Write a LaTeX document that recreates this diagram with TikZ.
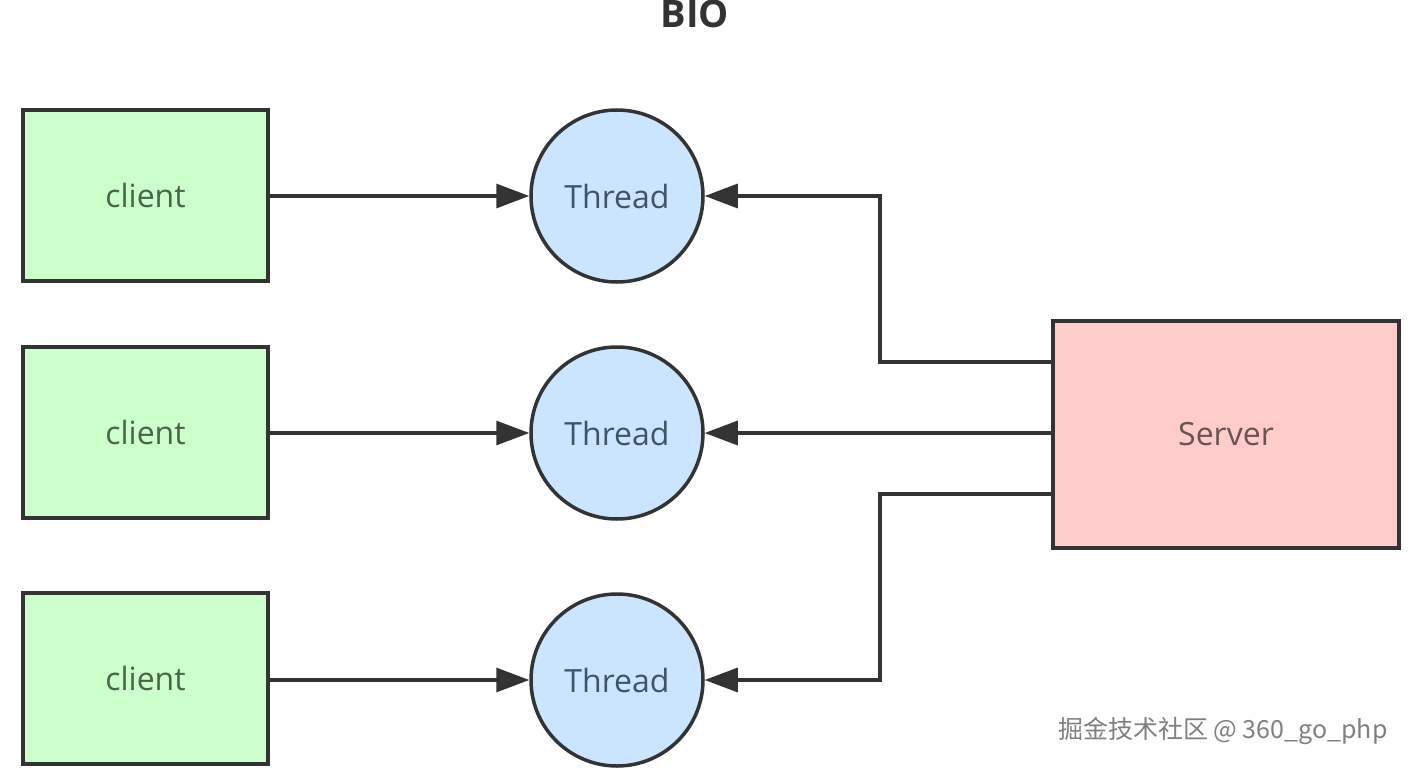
\documentclass[tikz,border=0pt]{standalone}
\usepackage{fontspec}
\setmainfont{Open Sans}
\newfontfamily\cjkfont{Noto Sans CJK SC}
\usetikzlibrary{arrows.meta}
\definecolor{edge}{HTML}{333333}
\definecolor{cfill}{HTML}{CCFFCC}
\definecolor{tfill}{HTML}{CCE5FF}
\definecolor{sfill}{HTML}{FFCCCC}
\definecolor{ctext}{HTML}{4A654A}
\definecolor{ttext}{HTML}{3F5566}
\definecolor{stext}{HTML}{6A5353}
\tikzset{
  clientbox/.style={draw=edge, line width=3.5pt, fill=cfill, minimum width=245pt, minimum height=171pt, inner sep=0pt, text=ctext, font=\fontsize{32}{36}\selectfont},
  threadnode/.style={draw=edge, line width=3.5pt, fill=tfill, circle, minimum size=172pt, inner sep=0pt, text=ttext, font=\fontsize{32}{36}\selectfont},
  serverbox/.style={draw=edge, line width=3.5pt, fill=sfill, minimum width=346pt, minimum height=227pt, inner sep=0pt, text=stext, font=\fontsize{32}{36}\selectfont},
  conn/.style={draw=edge, line width=3.2pt, -{Triangle[length=33pt,width=24pt]}},
}
\begin{document}
\begin{tikzpicture}[x=1pt,y=-1pt]
\path[use as bounding box, fill=white] (0,0) rectangle (1414,768);
\node[font=\bfseries\fontsize{38}{40}\selectfont, text=edge] (title) at (695,14) {BIO};
\node[clientbox] (c1) at (145.5,195.5) {client};
\node[clientbox] (c2) at (145.5,432.5) {client};
\node[clientbox] (c3) at (145.5,678.5) {client};
\node[threadnode] (t1) at (617,196) {Thread};
\node[threadnode] (t2) at (617,433) {Thread};
\node[threadnode] (t3) at (617,680) {Thread};
\node[serverbox] (s) at (1226,434.5) {Server};
\draw[conn] (c1.east |- t1) -- (t1);
\draw[conn] (c2.east |- t2) -- (t2);
\draw[conn] (c3.east |- t3) -- (t3);
\coordinate (s1) at (s.west |- 0,362);
\coordinate (s3) at (s.west |- 0,494);
\draw[conn] (s1) -| (880,196) -- (t1.east);
\draw[conn] (s.west |- t2) -- (t2.east);
\draw[conn] (s3) -| (880,680) -- (t3.east);
\node[font=\cjkfont\fontsize{25}{28}\selectfont, text=black!50, anchor=east] (wm) at (1391,731) {掘金技术社区 @ 360\_go\_php};
\end{tikzpicture}
\end{document}
